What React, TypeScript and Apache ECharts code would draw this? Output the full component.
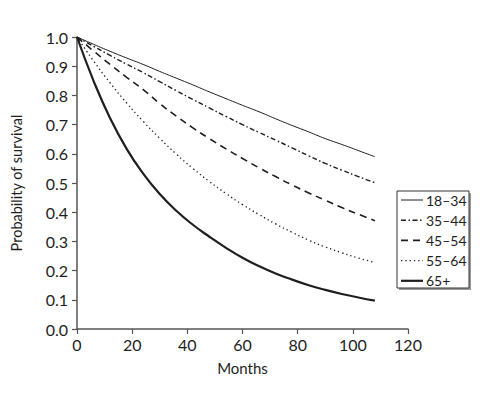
import React, { useEffect, useRef } from "react";
import * as echarts from "echarts";

const months = [0, 6, 12, 18, 24, 30, 36, 42, 48, 54, 60, 66, 72, 78, 84, 90, 96, 102, 108];
const age18to34 = [1.0, 0.975, 0.951, 0.928, 0.906, 0.882, 0.859, 0.836, 0.812, 0.789, 0.766, 0.744, 0.72, 0.697, 0.675, 0.652, 0.632, 0.611, 0.59];
const age35to44 = [1.0, 0.968, 0.937, 0.907, 0.878, 0.847, 0.816, 0.786, 0.757, 0.728, 0.7, 0.673, 0.647, 0.62, 0.593, 0.567, 0.544, 0.522, 0.501];
const age45to54 = [1.0, 0.952, 0.906, 0.862, 0.82, 0.772, 0.729, 0.689, 0.652, 0.617, 0.584, 0.552, 0.522, 0.493, 0.466, 0.441, 0.416, 0.393, 0.371];
const age55to64 = [1.0, 0.918, 0.843, 0.774, 0.711, 0.653, 0.599, 0.55, 0.505, 0.464, 0.426, 0.392, 0.36, 0.331, 0.304, 0.281, 0.261, 0.243, 0.228];
const age65plus = [1.0, 0.85, 0.722, 0.617, 0.532, 0.462, 0.405, 0.357, 0.316, 0.278, 0.244, 0.215, 0.19, 0.169, 0.15, 0.134, 0.12, 0.108, 0.097];
const seriesNames = ["18–34", "35–44", "45–54", "55–64", "65+"];
const xTicks = { min: 0, max: 120, interval: 20 };
const yTicks = { min: 0, max: 1, interval: 0.1 };

const FONT = "Lato, 'Open Sans', sans-serif";
const INK = "#1e1e1e";

export default function App() {
  const ref = useRef<HTMLDivElement>(null);
  useEffect(() => {
    if (!ref.current) return;
    const chart = echarts.init(ref.current, undefined, { renderer: "svg" });
    const values = [age18to34, age35to44, age45to54, age55to64, age65plus];
    const styles: { width: number; dash: number[] | null }[] = [
      { width: 1, dash: null },
      { width: 1.4, dash: [5, 2.5, 1.5, 2.5] },
      { width: 1.6, dash: [7, 5] },
      { width: 1.3, dash: [1.3, 3] },
      { width: 2.2, dash: null },
    ];

    // manual legend
    const boxX = 397, boxY = 191, boxW = 72, boxH = 97;
    const legendChildren: any[] = [
      { type: "rect", shape: { x: boxX + 2, y: boxY + 2, width: boxW, height: boxH }, style: { fill: "#9a9a9a" } },
      { type: "rect", shape: { x: boxX, y: boxY, width: boxW, height: boxH }, style: { fill: "#fff", stroke: "#333", lineWidth: 1 } },
    ];
    seriesNames.forEach((name, i) => {
      const cy = boxY + 9 + i * 20.2;
      legendChildren.push({
        type: "line",
        shape: { x1: boxX + 4, y1: cy, x2: boxX + 26, y2: cy },
        style: { stroke: INK, lineWidth: styles[i].width, lineDash: styles[i].dash || undefined },
      });
      legendChildren.push({
        type: "text",
        x: boxX + 29,
        y: cy,
        style: { text: name, fontFamily: FONT, fontSize: 14, fill: INK, verticalAlign: "middle" },
      });
    });

    chart.setOption({
      animation: false,
      backgroundColor: "#ffffff",
      textStyle: { fontFamily: FONT },
      grid: { left: 77, right: 82, top: 37, bottom: 66, containLabel: false },
      graphic: { elements: [{ type: "group", children: legendChildren }] },
      xAxis: {
        type: "value",
        min: xTicks.min,
        max: xTicks.max,
        interval: xTicks.interval,
        name: "Months",
        nameLocation: "middle",
        nameGap: 31,
        nameTextStyle: { fontFamily: FONT, fontSize: 15, color: INK },
        axisLine: { show: true, lineStyle: { color: "#555", width: 1.5 } },
        axisTick: { show: true, length: 5, lineStyle: { color: "#555", width: 1.2 } },
        axisLabel: { fontFamily: FONT, fontSize: 16, color: INK, margin: 7 },
        splitLine: { show: false },
      },
      yAxis: {
        type: "value",
        min: yTicks.min,
        max: yTicks.max,
        interval: yTicks.interval,
        name: "Probability of survival",
        nameLocation: "middle",
        nameGap: 53,
        nameTextStyle: { fontFamily: FONT, fontSize: 14.5, color: INK },
        axisLine: { show: true, lineStyle: { color: "#555", width: 1.5 } },
        axisTick: { show: true, length: 5, lineStyle: { color: "#555", width: 1.2 } },
        axisLabel: { fontFamily: FONT, fontSize: 16, color: INK, margin: 9, formatter: (v: number) => v.toFixed(1) },
        splitLine: { show: false },
      },
      series: seriesNames.map((name, i) => ({
        name,
        type: "line",
        data: months.map((m, j) => [m, values[i][j]]),
        smooth: 0.5,
        symbol: "none",
        lineStyle: { color: INK, width: styles[i].width, type: styles[i].dash || "solid" },
        itemStyle: { color: INK },
      })),
    });
    return () => chart.dispose();
  }, []);
  return (
    <div
      ref={ref}
      style={{ position: "fixed", left: 0, top: 0, width: 490, height: 395, background: "#fff" }}
    />
  );
}
